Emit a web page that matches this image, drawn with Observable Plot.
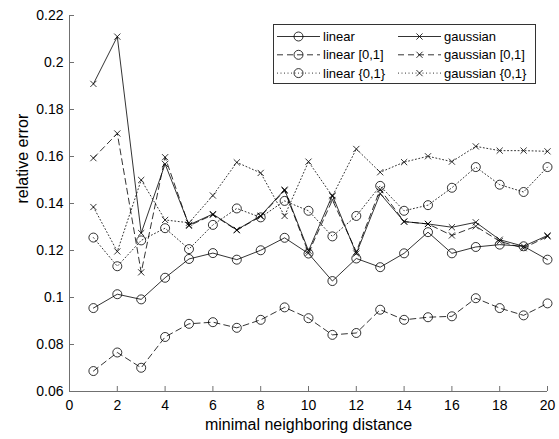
<!DOCTYPE html>
<html><head><meta charset="utf-8">
<script src="https://cdn.jsdelivr.net/npm/d3@7"></script>
<script src="https://cdn.jsdelivr.net/npm/@observablehq/plot@0.6"></script>
<style>html,body{margin:0;padding:0;background:#fff}#chart svg{display:block}</style>
</head><body><div id="chart"></div>
<script>
const distances = [1,2,3,4,5,6,7,8,9,10,11,12,13,14,15,16,17,18,19,20];
const xTicks = [0,2,4,6,8,10,12,14,16,18,20];
const yTicks = [0.06,0.08,0.10,0.12,0.14,0.16,0.18,0.20,0.22];
const seriesNames = ["linear","linear [0,1]","linear {0,1}","gaussian","gaussian [0,1]","gaussian {0,1}"];
const linear      = [0.0955,0.1014,0.0992,0.1084,0.1164,0.1189,0.1161,0.1201,0.1254,0.1187,0.1070,0.1166,0.1129,0.1188,0.1278,0.1188,0.1215,0.1225,0.1218,0.1161];
const linear01    = [0.0687,0.0766,0.0701,0.0832,0.0888,0.0895,0.0871,0.0905,0.0958,0.0912,0.0841,0.0849,0.0948,0.0905,0.0916,0.0920,0.0997,0.0955,0.0924,0.0975];
const linearSet   = [0.1255,0.1133,0.1243,0.1295,0.1206,0.1309,0.1379,0.1341,0.1411,0.1369,0.1260,0.1347,0.1475,0.1369,0.1393,0.1467,0.1555,0.1480,0.1449,0.1555];
const gaussian    = [0.1909,0.2110,0.1274,0.1568,0.1309,0.1355,0.1288,0.1348,0.1459,0.1199,0.1435,0.1187,0.1442,0.1323,0.1313,0.1299,0.1320,0.1246,0.1218,0.1264];
const gaussian01  = [0.1593,0.1698,0.1107,0.1597,0.1305,0.1352,0.1286,0.1345,0.1455,0.1190,0.1415,0.1195,0.1460,0.1323,0.1313,0.1264,0.1303,0.1239,0.1210,0.1260];
const gaussianSet = [0.1385,0.1196,0.1500,0.1330,0.1318,0.1434,0.1575,0.1530,0.1347,0.1578,0.1431,0.1632,0.1533,0.1576,0.1601,0.1578,0.1643,0.1625,0.1625,0.1622];

const seriesValues = [linear, linear01, linearSet, gaussian, gaussian01, gaussianSet];
const dashes = [null, "6,4", "1,2.5", null, "6,4", "1,2.5"];
const symbols = ["circle","circle","circle","times","times","times"];
const radii = [4.5, 4.5, 4.5, 2.9, 2.9, 2.9];
const FONT = "'Liberation Sans', Arial, Helvetica, sans-serif";

const marks = [];
seriesNames.forEach((name, i) => {
  const data = distances.map((d, j) => ({x: d, y: seriesValues[i][j], series: name}));
  marks.push(Plot.line(data, {x: "x", y: "y", stroke: "#000", strokeWidth: 0.8, strokeDasharray: dashes[i] || undefined}));
  marks.push(Plot.dot(data, {x: "x", y: "y", symbol: symbols[i], r: radii[i], fill: "none", stroke: "#000", strokeWidth: 0.8}));
});

const plot = Plot.plot({
  width: 559, height: 439,
  marginLeft: 69, marginRight: 12, marginTop: 15, marginBottom: 48,
  style: {fontFamily: FONT, fontSize: "14px", background: "#fff", color: "#000"},
  x: {domain: [0, 20]},
  y: {domain: [0.06, 0.22]},
  marks: [
    Plot.axisX({ticks: xTicks, tickSize: -5, tickPadding: 14, stroke: "#707070", label: null, tickFormat: d => String(d)}),
    Plot.axisY({ticks: yTicks, tickSize: -5, tickPadding: 11, stroke: "#707070", label: null, tickFormat: d => String(+d.toFixed(2))}),
    Plot.ruleY([0.06], {stroke: "#707070"}),
    Plot.ruleX([0], {stroke: "#707070"}),
    ...marks,
    Plot.text(["minimal neighboring distance"], {frameAnchor: "bottom", dy: 38, fontSize: 16, fill: "#000"}),
    Plot.text(["relative error"], {frameAnchor: "left", dx: -47, rotate: -90, fontSize: 16, fill: "#000"})
  ]
});
document.getElementById("chart").appendChild(plot);

// legend
const svg = d3.select(plot);
const lg = svg.append("g").attr("font-family", FONT).attr("font-size", 13).attr("text-anchor", "start");
lg.append("rect").attr("x", 273.5).attr("y", 24.5).attr("width", 262).attr("height", 59)
  .attr("fill", "#fff").attr("stroke", "#333").attr("stroke-width", 1);
seriesNames.forEach((name, i) => {
  const col = i < 3 ? 0 : 1, row = i % 3;
  const x0 = col ? 398 : 277, y = 36.5 + row * 18.3;
  lg.append("line").attr("x1", x0).attr("x2", x0 + 43).attr("y1", y).attr("y2", y)
    .attr("stroke", "#000").attr("stroke-width", 0.8).attr("stroke-dasharray", dashes[i]);
  const cx = x0 + 21.5;
  if (symbols[i] === "circle") {
    lg.append("circle").attr("cx", cx).attr("cy", y).attr("r", 4.5).attr("fill", "none").attr("stroke", "#000").attr("stroke-width", 0.8);
  } else {
    lg.append("path").attr("d", d3.symbol(d3.symbolTimes, Math.PI * 2.9 * 2.9)()).attr("transform", `translate(${cx},${y})`)
      .attr("fill", "none").attr("stroke", "#000").attr("stroke-width", 0.8);
  }
  lg.append("text").attr("x", x0 + 46).attr("y", y).attr("dy", "0.35em").attr("fill", "#000").attr("text-anchor", "start").text(name);
});
</script></body></html>
